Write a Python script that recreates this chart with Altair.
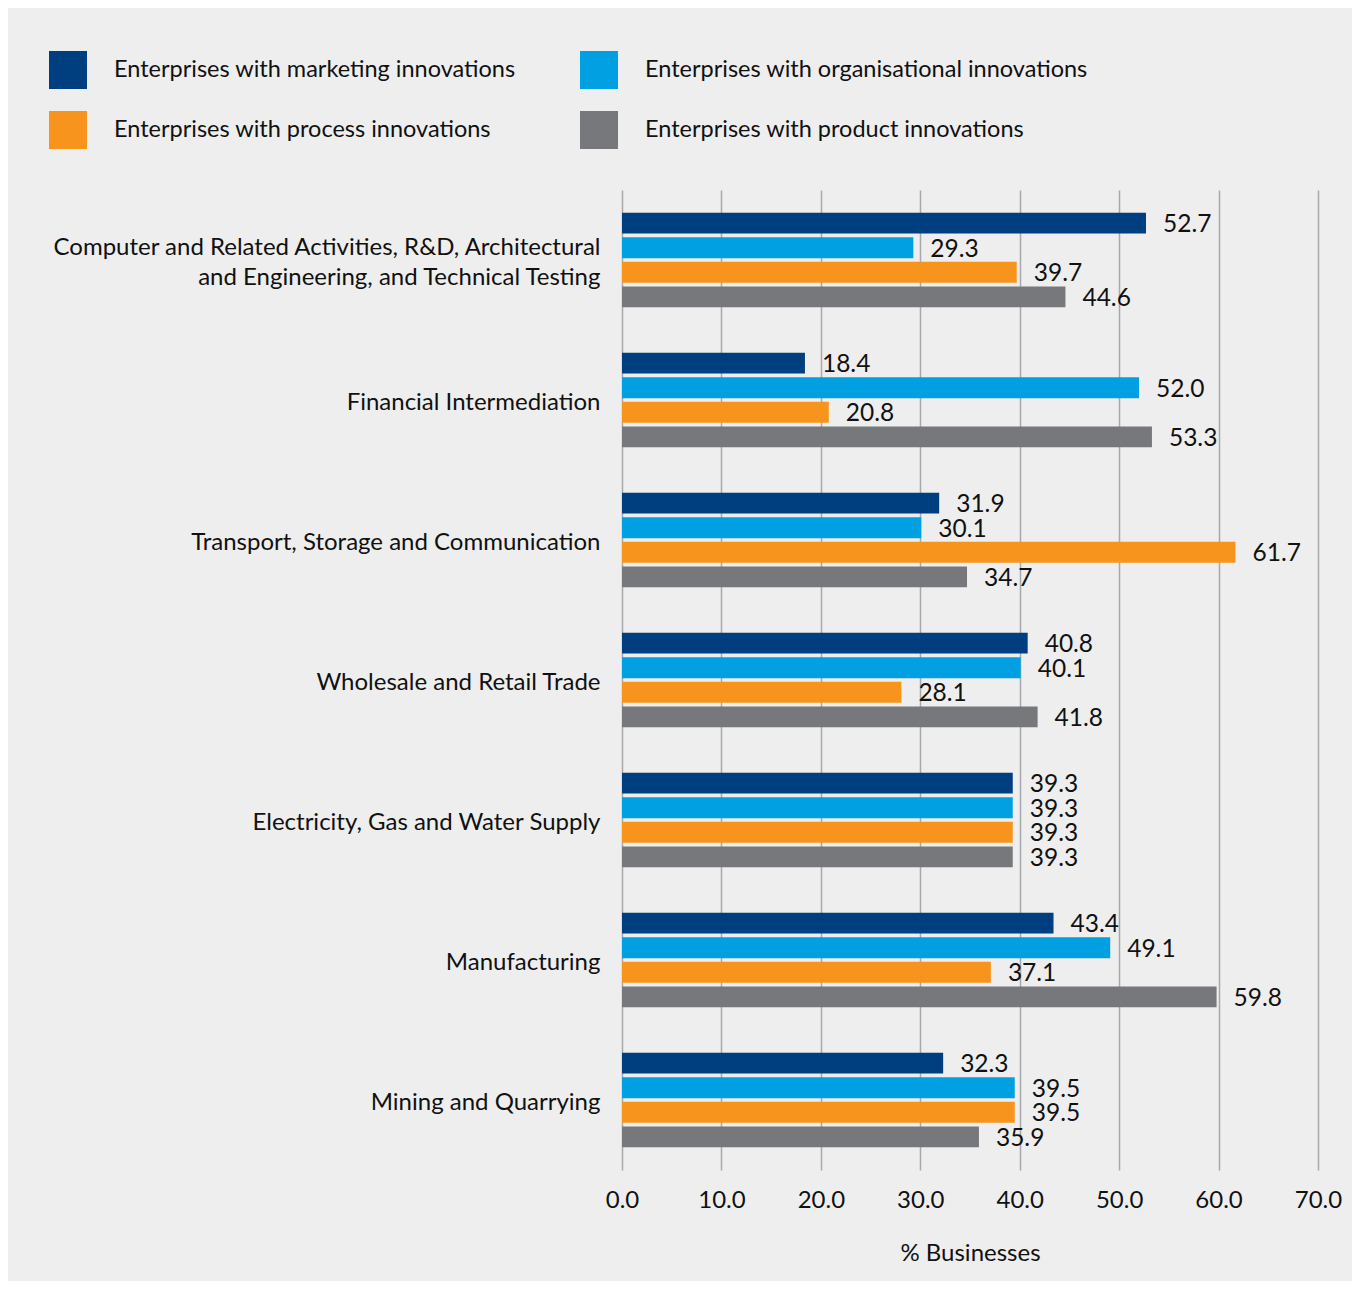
import altair as alt
import pandas as pd

FONT = "Lato"

sectors = [
    "Computer and Related Activities, R&D, Architectural\nand Engineering, and Technical Testing",
    "Financial Intermediation",
    "Transport, Storage and Communication",
    "Wholesale and Retail Trade",
    "Electricity, Gas and Water Supply",
    "Manufacturing",
    "Mining and Quarrying",
]
series = [
    "Enterprises with marketing innovations",
    "Enterprises with organisational innovations",
    "Enterprises with process innovations",
    "Enterprises with product innovations",
]
colors = ["#003f7f", "#00a0e3", "#f7941d", "#77787b"]

marketing = [52.7, 18.4, 31.9, 40.8, 39.3, 43.4, 32.3]
organisational = [29.3, 52.0, 30.1, 40.1, 39.3, 49.1, 39.5]
process = [39.7, 20.8, 61.7, 28.1, 39.3, 37.1, 39.5]
product = [44.6, 53.3, 34.7, 41.8, 39.3, 59.8, 35.9]

x_ticks = [0, 10, 20, 30, 40, 50, 60, 70]

rows = []
for s, vals in zip(series, [marketing, organisational, process, product]):
    for sec, v in zip(sectors, vals):
        rows.append({"sector": sec, "series": s, "value": v})
df = pd.DataFrame(rows)

# legend fills column by column: reorder so it reads row by row
legend_order = [series[0], series[2], series[1], series[3]]
legend_colors = [colors[0], colors[2], colors[1], colors[3]]

y_enc = alt.Y(
    "sector:N",
    sort=sectors,
    scale=alt.Scale(paddingInner=0, paddingOuter=0),
    axis=alt.Axis(
        title=None,
        ticks=False,
        domain=False,
        labelPadding=22,
        labelFontSize=24,
        labelLineHeight=30,
        labelLimit=700,
        labelExpr="split(datum.label, '\\n')",
        labelOffset={
            "condition": {"test": "indexof(datum.value, '\\n') >= 0", "value": -12},
            "value": 3,
        },
    ),
)
yoff_enc = alt.YOffset(
    "series:N",
    sort=series,
    scale=alt.Scale(paddingInner=0.15, paddingOuter=0.92),
)
x_enc = alt.X(
    "value:Q",
    scale=alt.Scale(domain=[0, 70], nice=False),
    axis=alt.Axis(
        title="% Businesses",
        values=x_ticks,
        format=".1f",
        grid=True,
        gridColor="#a7a9ac",
        gridWidth=1.5,
        ticks=False,
        domain=False,
        labelFlush=False,
        labelOverlap=False,
        labelPadding=18,
        labelFontSize=24,
        titleFontSize=24,
        titleFontWeight="normal",
        titlePadding=29,
    ),
)

base = alt.Chart(df)

bars = base.mark_bar().encode(
    x=x_enc,
    y=y_enc,
    yOffset=yoff_enc,
    color=alt.Color(
        "series:N",
        scale=alt.Scale(domain=legend_order, range=legend_colors),
        legend=alt.Legend(
            title=None,
            orient="none",
            legendX=-573,
            legendY=-139,
            columns=2,
            columnPadding=64,
            rowPadding=22,
            symbolType="square",
            symbolSize=1444,
            symbolStrokeWidth=0,
            labelFontSize=23.5,
            labelOffset=27,
            labelLimit=700,
            labelColor="#111111",
            labelFont=FONT,
            padding=0,
        ),
    ),
)

labels = base.mark_text(
    align="left", baseline="middle", dx=17, dy=2, fontSize=24.5, font=FONT, color="#111111"
).encode(
    x=alt.X("value:Q"),
    y=alt.Y("sector:N", sort=sectors),
    yOffset=alt.YOffset("series:N", sort=series),
    text=alt.Text("value:Q", format=".1f"),
)

chart = (
    alt.layer(bars, labels)
    .properties(
        width=696,
        height=980,
        autosize=alt.AutoSizeParams(type="none"),
        padding={"left": 614, "top": 182, "right": 34, "bottom": 111},
        background="#eeeeee",
    )
    .configure_view(stroke="transparent")
    .configure_axis(labelFont=FONT, titleFont=FONT, labelColor="#111111", titleColor="#111111")
    .configure_text(font=FONT)
)

chart.save("out.html", embed_options={"renderer": "svg", "actions": False})
